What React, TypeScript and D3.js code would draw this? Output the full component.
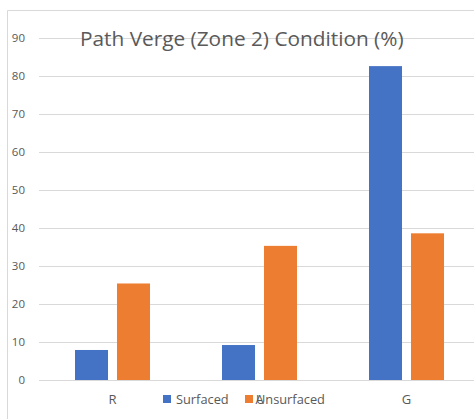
import { useEffect, useRef } from "react";
import * as d3 from "d3";

const categories = ["R", "A", "G"];
const seriesNames = ["Surfaced", "Unsurfaced"];
const surfaced = [7.9, 9.2, 82.6];
const unsurfaced = [25.4, 35.3, 38.6];
const yTicks = [0, 10, 20, 30, 40, 50, 60, 70, 80, 90];
const colors = ["#4472C4", "#ED7D31"];

export default function App() {
  const ref = useRef<SVGSVGElement | null>(null);

  useEffect(() => {
    if (!ref.current) return;
    const width = 474;
    const height = 419;
    const plot = { left: 39, right: 480, top: 38, bottom: 380 };
    const font = "'Open Sans', sans-serif";

    const svg = d3.select(ref.current);
    svg.selectAll("*").remove();

    const x0 = d3.scaleBand<string>().domain(categories).range([plot.left, plot.right]);
    const x1 = d3
      .scaleBand<string>()
      .domain(seriesNames)
      .range([36, 111])
      .paddingInner(0.214);
    const y = d3.scaleLinear().domain([0, 90]).range([plot.bottom, plot.top]);

    // chart frame (cropped on the right and bottom)
    svg
      .append("path")
      .attr("d", `M7.5,${height} V10.5 H${width}`)
      .attr("fill", "none")
      .attr("stroke", "#d9d9d9");

    // gridlines
    svg
      .append("g")
      .selectAll("line")
      .data(yTicks)
      .join("line")
      .attr("x1", plot.left)
      .attr("x2", width)
      .attr("y1", (d) => Math.round(y(d)) + 0.5)
      .attr("y2", (d) => Math.round(y(d)) + 0.5)
      .attr("stroke", "#d9d9d9");

    // y tick labels
    svg
      .append("g")
      .selectAll("text")
      .data(yTicks)
      .join("text")
      .attr("x", 25)
      .attr("y", (d) => y(d) + 4)
      .attr("text-anchor", "end")
      .attr("font-family", font)
      .attr("font-size", 11.5)
      .attr("fill", "#595959")
      .text((d) => d);

    const rows = categories.map((c, i) => ({ c, vals: [surfaced[i], unsurfaced[i]] }));

    const groups = svg
      .append("g")
      .selectAll("g")
      .data(rows)
      .join("g")
      .attr("transform", (d) => `translate(${x0(d.c)},0)`);

    groups
      .selectAll("rect")
      .data((d) => d.vals.map((v, j) => ({ s: seriesNames[j], v, j })))
      .join("rect")
      .attr("x", (d) => x1(d.s)!)
      .attr("width", x1.bandwidth())
      .attr("y", (d) => y(d.v))
      .attr("height", (d) => plot.bottom - y(d.v))
      .attr("fill", (d) => colors[d.j]);

    // category labels
    svg
      .append("g")
      .selectAll("text")
      .data(categories)
      .join("text")
      .attr("x", (d) => x0(d)! + x0.bandwidth() / 2)
      .attr("y", 404)
      .attr("text-anchor", "middle")
      .attr("font-family", font)
      .attr("font-size", 13)
      .attr("fill", "#595959")
      .text((d) => d);

    // legend
    const legendX = [163, 245];
    const legend = svg
      .append("g")
      .selectAll("g")
      .data(seriesNames)
      .join("g")
      .attr("transform", (_, i) => `translate(${legendX[i]},395)`);
    legend
      .append("rect")
      .attr("width", 8)
      .attr("height", 8)
      .attr("fill", (_, i) => colors[i]);
    legend
      .append("text")
      .attr("x", (_, i) => (i === 0 ? 13 : 11))
      .attr("y", 8.8)
      .attr("font-family", font)
      .attr("font-size", 12.8)
      .attr("fill", "#595959")
      .text((d) => d);

    // title
    svg
      .append("text")
      .attr("x", 80)
      .attr("y", 46)
      .attr("font-family", font)
      .attr("font-size", 20.8)
      .attr("fill", "#595959")
      .text("Path Verge (Zone 2) Condition (%)");
  }, []);

  return (
    <svg
      ref={ref}
      width={474}
      height={419}
      style={{ position: "absolute", left: 0, top: 0, background: "#fff" }}
    />
  );
}
